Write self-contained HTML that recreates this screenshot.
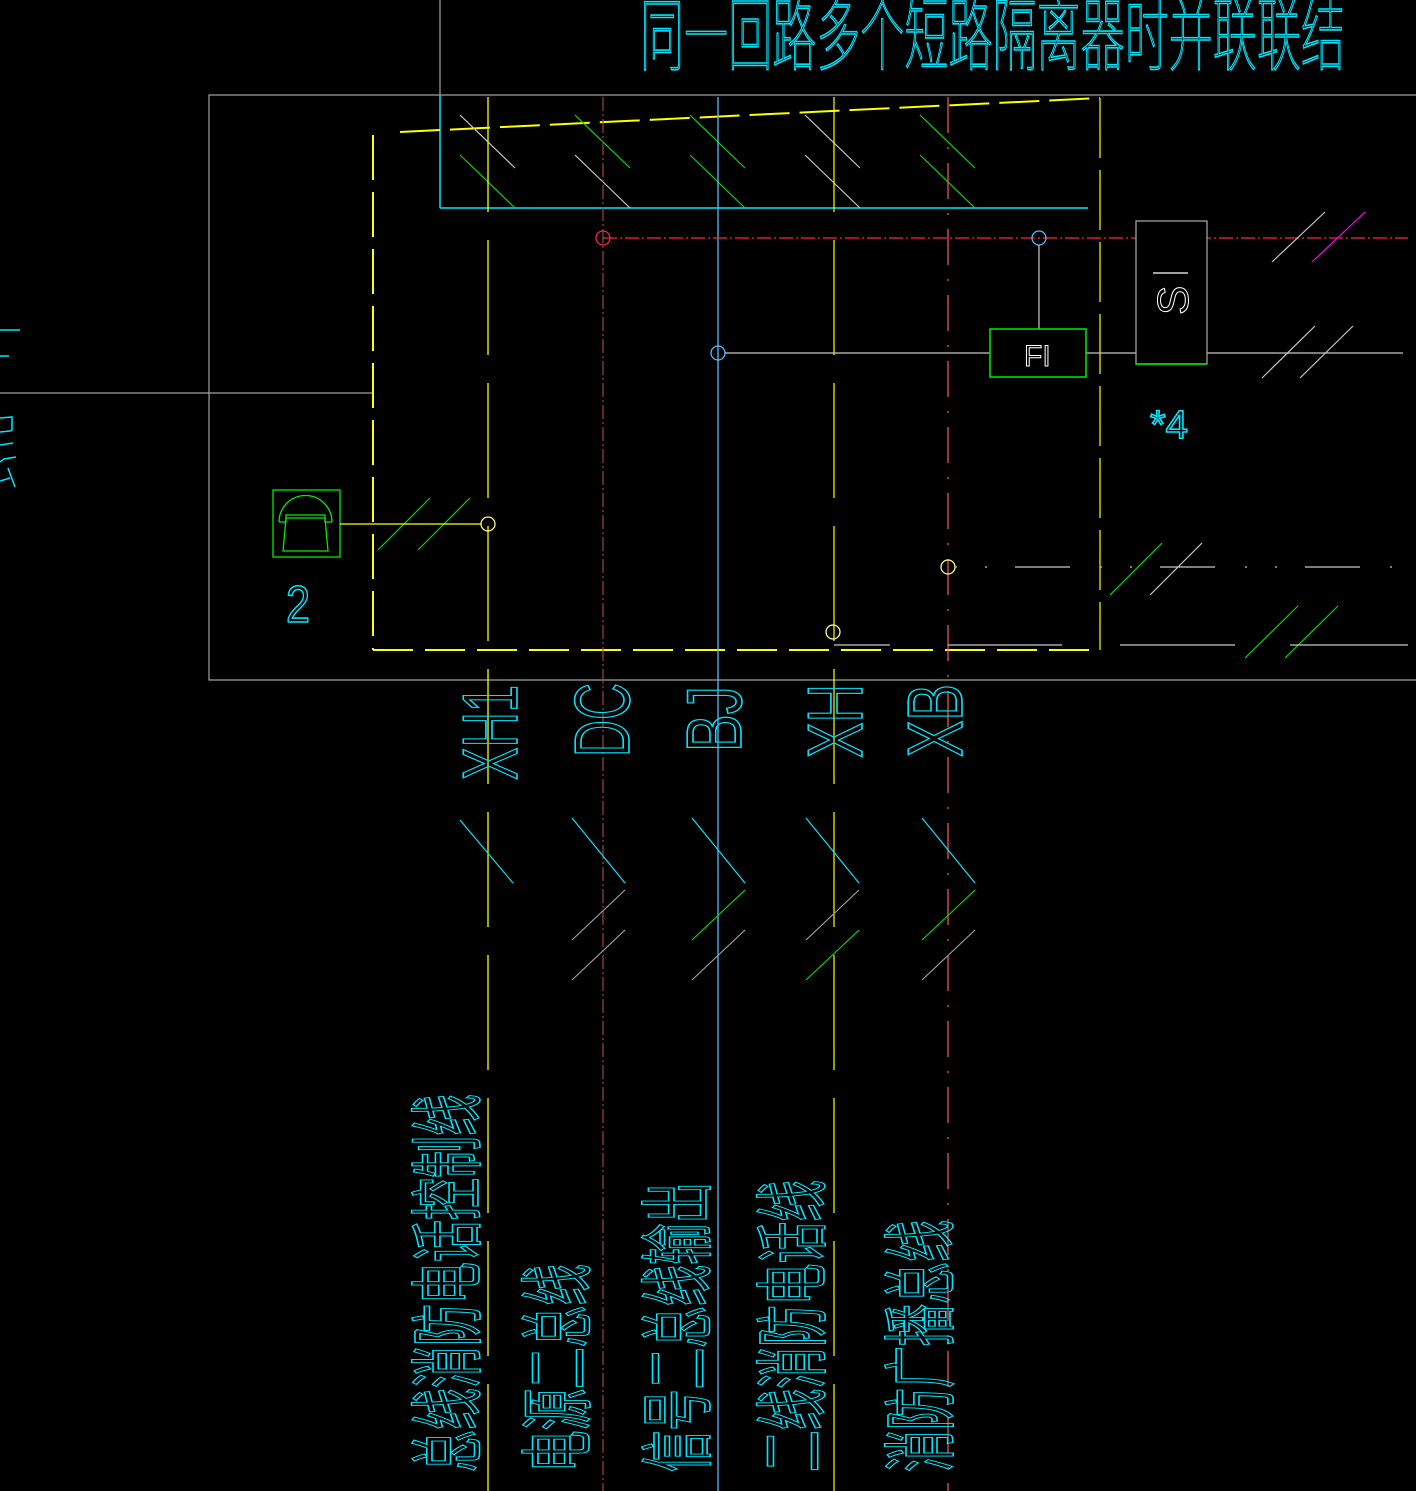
<!DOCTYPE html>
<html><head><meta charset="utf-8"><style>
html,body{margin:0;padding:0;background:#000;}
svg{display:block;}
text{font-family:"Liberation Sans","Noto Sans CJK SC",sans-serif;fill:none;stroke:#00e5ff;stroke-width:1.6;}
</style></head><body>
<svg width="1416" height="1491" viewBox="0 0 1416 1491" xmlns="http://www.w3.org/2000/svg">
<rect width="1416" height="1491" fill="#000"/>
<!-- title -->
<text x="640" y="64" font-size="80" textLength="705" lengthAdjust="spacingAndGlyphs" font-weight="100">同一回路多个短路隔离器时并联联结</text>
<!-- outer grey frame -->
<polyline points="1416,95 209,95 209,680 1416,680" fill="none" stroke="#a0a0a0" stroke-width="1.2"/>
<line x1="440" y1="0" x2="440" y2="95" stroke="#a0a0a0" stroke-width="1.2"/>
<line x1="440" y1="95" x2="440" y2="208" stroke="#00e5ff" stroke-width="1.5"/>
<line x1="440" y1="208" x2="1088" y2="208" stroke="#00e5ff" stroke-width="1.5"/>
<line x1="0" y1="393" x2="373" y2="393" stroke="#a0a0a0" stroke-width="1.2"/>
<!-- left fragments -->
<g stroke="#00e5ff" stroke-width="1.5">
<line x1="0" y1="330" x2="20" y2="330"/><line x1="0" y1="356" x2="9" y2="356"/>
<polyline points="0,418 12,417 12,430 10,431 0,432" fill="none"/>
<line x1="0" y1="445" x2="13" y2="443"/><polyline points="0,462 4,459 16,457" fill="none"/><line x1="8" y1="468" x2="15" y2="487"/><line x1="0" y1="481" x2="10" y2="478"/>
</g>
<!-- yellow dashed frame -->
<g stroke="#ffff00" stroke-width="2" fill="none">
<line x1="400" y1="132" x2="1100" y2="98" stroke-dasharray="40,10"/>
<line x1="373" y1="135" x2="373" y2="650" stroke-dasharray="45,12"/>
<line x1="373" y1="650" x2="1100" y2="650" stroke-dasharray="40,12"/>
</g>
<line x1="1100" y1="98" x2="1100" y2="650" stroke="#ffff00" stroke-width="1.2" stroke-dasharray="60,12"/>
<!-- hatch in cyan box -->
<g stroke-width="1.2">
<line x1="460" y1="115" x2="515" y2="168" stroke="#c8c8c8"/><line x1="460" y1="155" x2="515" y2="208" stroke="#00dd00"/>
<line x1="575" y1="115" x2="630" y2="168" stroke="#00dd00"/><line x1="575" y1="155" x2="630" y2="208" stroke="#c8c8c8"/>
<line x1="690" y1="115" x2="745" y2="168" stroke="#00dd00"/><line x1="690" y1="155" x2="745" y2="208" stroke="#00dd00"/>
<line x1="805" y1="115" x2="860" y2="168" stroke="#c8c8c8"/><line x1="805" y1="155" x2="860" y2="208" stroke="#c8c8c8"/>
<line x1="920" y1="115" x2="975" y2="168" stroke="#00dd00"/><line x1="920" y1="155" x2="975" y2="208" stroke="#00dd00"/>
</g>
<!-- vertical buses -->
<line x1="488" y1="97" x2="488" y2="1491" stroke="#ffff00" stroke-width="1.3" stroke-dasharray="115,28"/>
<line x1="603" y1="97" x2="603" y2="1491" stroke="#b04848" stroke-width="1.1" stroke-dasharray="14,3,2,3"/>
<line x1="718" y1="97" x2="718" y2="1491" stroke="#5ab8ff" stroke-width="1.3"/>
<line x1="834" y1="97" x2="834" y2="1491" stroke="#ffff00" stroke-width="1.2" stroke-dasharray="115,28"/>
<line x1="948" y1="97" x2="948" y2="1491" stroke="#ff5a5a" stroke-width="1.2" stroke-dasharray="36,14,2,14"/>
<!-- red dash-dot horizontal -->
<line x1="603" y1="238" x2="1408" y2="238" stroke="#ff2040" stroke-width="1.2" stroke-dasharray="14,3,2,3"/>
<!-- circles -->
<g fill="none" stroke-width="1.3">
<circle cx="603" cy="238" r="7" stroke="#ff2040"/>
<circle cx="1039" cy="238" r="7" stroke="#5ab8ff"/>
<circle cx="718" cy="353" r="7" stroke="#5ab8ff"/>
<circle cx="488" cy="524" r="7" stroke="#ffff80"/>
<circle cx="948" cy="567" r="7" stroke="#ffff80"/>
<circle cx="833" cy="632" r="7" stroke="#ffff80"/>
</g>
<!-- FI / S -->
<line x1="1039" y1="245" x2="1039" y2="329" stroke="#c8c8c8" stroke-width="1.2"/>
<line x1="725" y1="353" x2="990" y2="353" stroke="#c8c8c8" stroke-width="1.2"/>
<line x1="1086" y1="353" x2="1136" y2="353" stroke="#c8c8c8" stroke-width="1.2"/>
<line x1="1207" y1="353" x2="1403" y2="353" stroke="#c8c8c8" stroke-width="1.2"/>
<rect x="990" y="329" width="96" height="48" fill="none" stroke="#00ee00" stroke-width="1.5"/>
<text x="1024" y="366" font-size="30" style="stroke:#fff;stroke-width:1">FI</text>
<rect x="1136" y="221" width="71" height="143" fill="#000" stroke="#a0a0a0" stroke-width="1.3"/>
<line x1="1136" y1="364" x2="1207" y2="364" stroke="#00ee00" stroke-width="1.5"/>
<text transform="translate(1188,315) rotate(-90)" font-size="44" style="stroke:#fff;stroke-width:1">S</text>
<line x1="1153" y1="273" x2="1188" y2="273" stroke="#fff" stroke-width="1.2"/>
<text x="1150" y="438" font-size="40" textLength="38" lengthAdjust="spacingAndGlyphs">*4</text>
<!-- right slashes -->
<g stroke-width="1.2">
<line x1="1272" y1="262" x2="1325" y2="212" stroke="#c8c8c8"/><line x1="1312" y1="262" x2="1365" y2="212" stroke="#ff00ff"/>
<line x1="1262" y1="378" x2="1315" y2="326" stroke="#c8c8c8"/><line x1="1300" y1="378" x2="1353" y2="326" stroke="#c8c8c8"/>
<line x1="1110" y1="595" x2="1162" y2="543" stroke="#00dd00"/><line x1="1150" y1="595" x2="1202" y2="543" stroke="#c8c8c8"/>
<line x1="1245" y1="658" x2="1298" y2="606" stroke="#00dd00"/><line x1="1285" y1="658" x2="1338" y2="606" stroke="#00dd00"/>
<line x1="378" y1="550" x2="430" y2="498" stroke="#00dd00"/><line x1="418" y1="550" x2="470" y2="498" stroke="#00dd00"/>
</g>
<line x1="955" y1="567" x2="1395" y2="567" stroke="#c8c8c8" stroke-width="1.2" stroke-dasharray="2,28,2,28,55,30"/>
<g stroke="#c8c8c8" stroke-width="1.2">
<line x1="834" y1="645" x2="890" y2="645"/><line x1="948" y1="645" x2="1062" y2="645"/>
<line x1="1120" y1="645" x2="1235" y2="645"/><line x1="1290" y1="645" x2="1408" y2="645"/>
</g>
<!-- phone -->
<rect x="273" y="490" width="67" height="67" fill="none" stroke="#00ee00" stroke-width="1.3"/>
<path d="M279,522 A24,24 0 0 1 332,522 L332,519" fill="none" stroke="#00ee00" stroke-width="1.3"/>
<polyline points="279,522 286,522 286,515 325,515 325,522 332,522" fill="none" stroke="#00ee00" stroke-width="1.3"/>
<polygon points="286,518 325,518 328,551 283,551" fill="none" stroke="#00ee00" stroke-width="1.3"/>
<line x1="340" y1="524" x2="481" y2="524" stroke="#ffff00" stroke-width="1.3"/>
<text x="286" y="622" font-size="52" textLength="24" lengthAdjust="spacingAndGlyphs">2</text>
<!-- column labels -->
<g font-size="78">
<text transform="translate(517,780) rotate(-90)" textLength="95" lengthAdjust="spacingAndGlyphs">XH1</text>
<text transform="translate(629,757) rotate(-90)" textLength="74" lengthAdjust="spacingAndGlyphs">DC</text>
<text transform="translate(741,752) rotate(-90)" textLength="66" lengthAdjust="spacingAndGlyphs">BJ</text>
<text transform="translate(862,758) rotate(-90)" textLength="74" lengthAdjust="spacingAndGlyphs">XH</text>
<text transform="translate(962,757) rotate(-90)" textLength="73" lengthAdjust="spacingAndGlyphs">XB</text>
</g>
<!-- chevrons -->
<g stroke="#00e5ff" stroke-width="1.2" fill="none">
<line x1="460" y1="820" x2="513" y2="883"/>
<polyline points="572,818 625,883"/>
<polyline points="692,818 745,883"/>
<polyline points="806,818 859,883"/>
<polyline points="922,818 975,883"/>
</g>
<g stroke-width="1.2">
<line x1="572" y1="940" x2="625" y2="890" stroke="#a0a0a0"/><line x1="572" y1="980" x2="625" y2="930" stroke="#a0a0a0"/>
<line x1="692" y1="940" x2="745" y2="890" stroke="#00dd00"/><line x1="692" y1="980" x2="745" y2="930" stroke="#a0a0a0"/>
<line x1="806" y1="940" x2="859" y2="890" stroke="#a0a0a0"/><line x1="806" y1="980" x2="859" y2="930" stroke="#00dd00"/>
<line x1="922" y1="940" x2="975" y2="890" stroke="#00dd00"/><line x1="922" y1="980" x2="975" y2="930" stroke="#a0a0a0"/>
</g>
<!-- vertical Chinese labels -->
<g font-size="74">
<text transform="translate(474,1472) rotate(-90)" textLength="378" lengthAdjust="spacingAndGlyphs">总线消防电话控制线</text>
<text transform="translate(584,1472) rotate(-90)" textLength="208" lengthAdjust="spacingAndGlyphs">电源二总线</text>
<text transform="translate(704,1472) rotate(-90)" textLength="290" lengthAdjust="spacingAndGlyphs">信号二总线输出</text>
<text transform="translate(819,1472) rotate(-90)" textLength="292" lengthAdjust="spacingAndGlyphs">二线消防电话线</text>
<text transform="translate(947,1472) rotate(-90)" textLength="252" lengthAdjust="spacingAndGlyphs">消防广播总线</text>
</g>
</svg>
</body></html>
